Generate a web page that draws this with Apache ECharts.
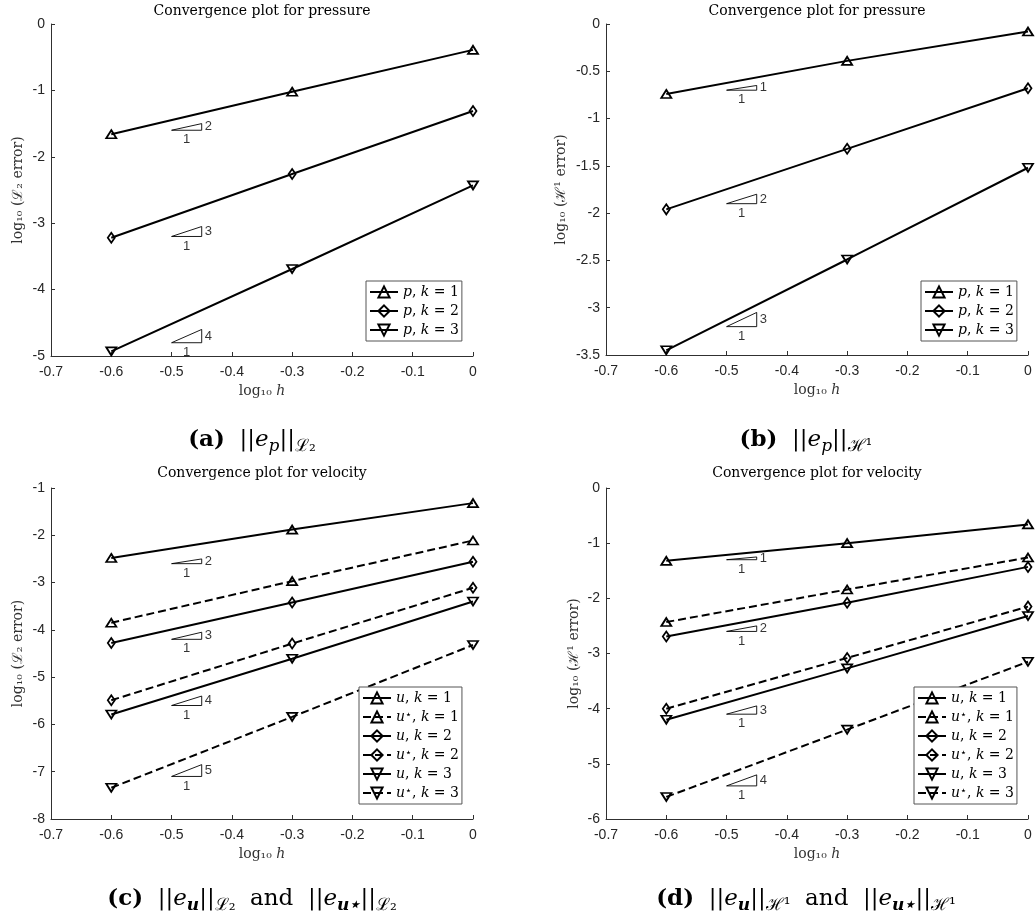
<!DOCTYPE html>
<html>
<head>
<meta charset="utf-8">
<script src="https://cdn.jsdelivr.net/npm/echarts@6/dist/echarts.min.js"></script>
<style>
  body { margin: 0; background: #fff; }
  #chart { width: 1035px; height: 922px; }
</style>
</head>
<body>
<div id="chart"></div>
<script>
// log10 h values
var hLog = [-0.6, -0.3, 0];

// pressure, L2 error
var pL2_k1 = [-1.66, -1.02, -0.39];
var pL2_k2 = [-3.22, -2.26, -1.31];
var pL2_k3 = [-4.93, -3.69, -2.43];
// pressure, H1 error
var pH1_k1 = [-0.74, -0.39, -0.08];
var pH1_k2 = [-1.96, -1.32, -0.68];
var pH1_k3 = [-3.45, -2.49, -1.52];
// velocity, L2 error (u and u*)
var uL2_k1 = [-2.48, -1.88, -1.32];
var usL2_k1 = [-3.85, -2.97, -2.11];
var uL2_k2 = [-4.28, -3.42, -2.56];
var usL2_k2 = [-5.49, -4.29, -3.11];
var uL2_k3 = [-5.79, -4.61, -3.40];
var usL2_k3 = [-7.34, -5.84, -4.32];
// velocity, H1 error (u and u*)
var uH1_k1 = [-1.32, -1.00, -0.66];
var usH1_k1 = [-2.43, -1.84, -1.26];
var uH1_k2 = [-2.69, -2.08, -1.43];
var usH1_k2 = [-4.00, -3.08, -2.15];
var uH1_k3 = [-4.20, -3.27, -2.32];
var usH1_k3 = [-5.60, -4.38, -3.15];

// slope triangles: rate and bottom y of each one
var slopeA = [2, 3, 4];      var slopeBaseA = [-1.6, -3.2, -4.8];
var slopeB = [1, 2, 3];      var slopeBaseB = [-0.7, -1.9, -3.2];
var slopeC = [2, 3, 4, 5];   var slopeBaseC = [-2.6, -4.2, -5.6, -7.1];
var slopeD = [1, 2, 3, 4];   var slopeBaseD = [-1.3, -2.6, -4.1, -5.4];
var slopeX0 = -0.5, slopeRun = 0.05;

var axisColor = '#303030';
var serif = "'DejaVu Serif', 'Liberation Serif', serif";
var sans = "'Liberation Sans', Arial, sans-serif";

var legendLabels = {
  a1: '{i|p}, {i|k} = 1', a2: '{i|p}, {i|k} = 2', a3: '{i|p}, {i|k} = 3',
  b1: '{i|p}, {i|k} = 1', b2: '{i|p}, {i|k} = 2', b3: '{i|p}, {i|k} = 3',
  c1: '{i|u}, {i|k} = 1', c1s: '{i|u}{s|⋆}, {i|k} = 1', c2: '{i|u}, {i|k} = 2',
  c2s: '{i|u}{s|⋆}, {i|k} = 2', c3: '{i|u}, {i|k} = 3', c3s: '{i|u}{s|⋆}, {i|k} = 3',
  d1: '{i|u}, {i|k} = 1', d1s: '{i|u}{s|⋆}, {i|k} = 1', d2: '{i|u}, {i|k} = 2',
  d2s: '{i|u}{s|⋆}, {i|k} = 2', d3: '{i|u}, {i|k} = 3', d3s: '{i|u}{s|⋆}, {i|k} = 3'
};

function mkLine(name, vals, idx, shape, dashed) {
  var sym = 'triangle', size = [10, 8], rot = 0;
  if (shape === 'diamond') { sym = 'diamond'; size = [7, 10]; }
  if (shape === 'down') { rot = 180; }
  return {
    name: name, type: 'line', xAxisIndex: idx, yAxisIndex: idx,
    data: hLog.map(function (x, i) { return [x, vals[i]]; }),
    symbol: sym, symbolSize: size, symbolRotate: rot, showAllSymbol: true,
    lineStyle: { color: '#000', width: 2, type: dashed ? [8, 4] : 'solid' },
    itemStyle: { color: 'rgba(255,255,255,0)', borderColor: '#000', borderWidth: 1.8 },
    z: 3
  };
}

function mkSlopes(rates, bases, idx) {
  var out = [];
  var labels = [];
  rates.forEach(function (r, i) {
    var x1 = slopeX0 + slopeRun, y0 = bases[i], y1 = bases[i] + r * slopeRun;
    out.push({
      type: 'line', xAxisIndex: idx, yAxisIndex: idx, silent: true, symbol: 'none',
      data: [[slopeX0, y0], [x1, y0], [x1, y1], [slopeX0, y0]],
      lineStyle: { color: '#000', width: 0.9 }, z: 2
    });
    labels.push({ value: [x1, (y0 + y1) / 2], label: { position: 'right', distance: 3, formatter: String(r) } });
    labels.push({ value: [slopeX0 + slopeRun / 2, y0], label: { position: 'bottom', distance: 3, formatter: '1' } });
  });
  out.push({
    type: 'scatter', xAxisIndex: idx, yAxisIndex: idx, silent: true, symbolSize: 0,
    data: labels,
    label: { show: true, color: '#000', fontSize: 13, fontFamily: sans }
  });
  return out;
}

var grids = [
  { left: 51, top: 24, width: 422, height: 332 },
  { left: 606, top: 24, width: 422, height: 331 },
  { left: 51, top: 488, width: 422, height: 331 },
  { left: 606, top: 488, width: 422, height: 331 }
];
var yRanges = [[-5, 0, 1], [-3.5, 0, 0.5], [-8, -1, 1], [-6, 0, 1]];
var yNames = ['log₁₀ (ℒ₂ error)', 'log₁₀ (ℋ¹ error)', 'log₁₀ (ℒ₂ error)', 'log₁₀ (ℋ¹ error)'];
var yGaps = [26, 38, 26, 25];

var xAxes = grids.map(function (g, i) {
  return {
    type: 'value', gridIndex: i, min: -0.7, max: 0, interval: 0.1,
    name: '{n|log₁₀ }{i|h}', nameLocation: 'middle', nameGap: 28,
    nameTextStyle: { fontFamily: serif, fontSize: 14, color: '#333',
      rich: { n: { fontFamily: serif, fontSize: 14, color: '#333' },
              i: { fontFamily: serif, fontSize: 14, fontStyle: 'italic', color: '#333' } } },
    axisLine: { onZero: false, lineStyle: { color: axisColor, width: 1 } },
    axisTick: { inside: true, length: 4, lineStyle: { color: axisColor } },
    axisLabel: { color: '#262626', fontSize: 14, fontFamily: sans, margin: 9,
      formatter: function (v) { return String(Math.round(v * 10) / 10); } },
    splitLine: { show: false }
  };
});
var yAxes = grids.map(function (g, i) {
  return {
    type: 'value', gridIndex: i, min: yRanges[i][0], max: yRanges[i][1], interval: yRanges[i][2],
    name: yNames[i], nameLocation: 'middle', nameGap: yGaps[i], nameRotate: 90,
    nameTextStyle: { fontFamily: serif, fontSize: 14, color: '#333' },
    axisLine: { show: true, onZero: false, lineStyle: { color: axisColor, width: 1 } },
    axisTick: { show: true, inside: true, length: 4, lineStyle: { color: axisColor } },
    axisLabel: { color: '#262626', fontSize: 14, fontFamily: sans, margin: 6,
      formatter: function (v) { return String(Math.round(v * 10) / 10); } },
    splitLine: { show: false }
  };
});

var series = [
  mkLine('a1', pL2_k1, 0, 'up'), mkLine('a2', pL2_k2, 0, 'diamond'), mkLine('a3', pL2_k3, 0, 'down'),
  mkLine('b1', pH1_k1, 1, 'up'), mkLine('b2', pH1_k2, 1, 'diamond'), mkLine('b3', pH1_k3, 1, 'down'),
  mkLine('c1', uL2_k1, 2, 'up'), mkLine('c1s', usL2_k1, 2, 'up', true),
  mkLine('c2', uL2_k2, 2, 'diamond'), mkLine('c2s', usL2_k2, 2, 'diamond', true),
  mkLine('c3', uL2_k3, 2, 'down'), mkLine('c3s', usL2_k3, 2, 'down', true),
  mkLine('d1', uH1_k1, 3, 'up'), mkLine('d1s', usH1_k1, 3, 'up', true),
  mkLine('d2', uH1_k2, 3, 'diamond'), mkLine('d2s', usH1_k2, 3, 'diamond', true),
  mkLine('d3', uH1_k3, 3, 'down'), mkLine('d3s', usH1_k3, 3, 'down', true)
].concat(mkSlopes(slopeA, slopeBaseA, 0), mkSlopes(slopeB, slopeBaseB, 1),
         mkSlopes(slopeC, slopeBaseC, 2), mkSlopes(slopeD, slopeBaseD, 3));

function mkLegend(names, left, top) {
  return {
    data: names, orient: 'vertical', left: left, top: top,
    padding: [4, 3, 4, 3], itemGap: 5, itemWidth: 28, itemHeight: 14,
    backgroundColor: '#fff', borderColor: '#555', borderWidth: 1, borderRadius: 0,
    selectedMode: false,
    formatter: function (n) { return legendLabels[n]; },
    textStyle: {
      fontFamily: serif, fontSize: 14, color: '#000',
      rich: {
        i: { fontFamily: serif, fontStyle: 'italic', fontSize: 14 },
        s: { fontFamily: serif, fontSize: 11, verticalAlign: 'top', lineHeight: 14 }
      }
    }
  };
}

var titles = [
  { text: 'Convergence plot for pressure', left: 262, top: 4 },
  { text: 'Convergence plot for pressure', left: 817, top: 4 },
  { text: 'Convergence plot for velocity', left: 262, top: 466 },
  { text: 'Convergence plot for velocity', left: 817, top: 466 }
].map(function (t) {
  t.textAlign = 'center'; t.padding = 0;
  t.textStyle = { fontFamily: serif, fontSize: 14, fontWeight: 'normal', color: '#000' };
  return t;
});

var capRich = {
  b: { fontFamily: serif, fontWeight: 'bold', fontSize: 23, lineHeight: 30, verticalAlign: 'middle' },
  n: { fontFamily: serif, fontSize: 23, lineHeight: 30, verticalAlign: 'middle' },
  i: { fontFamily: serif, fontStyle: 'italic', fontSize: 23, lineHeight: 30, verticalAlign: 'middle' },
  sub: { fontFamily: serif, fontSize: 17, lineHeight: 18, verticalAlign: 'bottom' },
  subi: { fontFamily: serif, fontStyle: 'italic', fontSize: 17, lineHeight: 18, verticalAlign: 'bottom' },
  subb: { fontFamily: serif, fontStyle: 'italic', fontWeight: 'bold', fontSize: 17, lineHeight: 18, verticalAlign: 'bottom' }
};
function caption(text, x, y) {
  return {
    type: 'text', x: x, y: y,
    style: { text: text, rich: capRich, align: 'center', verticalAlign: 'middle', fill: '#000' }
  };
}

var option = {
  animation: false,
  backgroundColor: '#fff',
  title: titles,
  grid: grids,
  xAxis: xAxes,
  yAxis: yAxes,
  legend: [
    mkLegend(['a1', 'a2', 'a3'], 366, 281),
    mkLegend(['b1', 'b2', 'b3'], 921, 281),
    mkLegend(['c1', 'c1s', 'c2', 'c2s', 'c3', 'c3s'], 359, 687),
    mkLegend(['d1', 'd1s', 'd2', 'd2s', 'd3', 'd3s'], 914, 687)
  ],
  series: series,
  graphic: [
    caption('{b|(a)}{n|  ||}{i|e}{subi|p}{n|||}{sub|ℒ₂}', 252, 440),
    caption('{b|(b)}{n|  ||}{i|e}{subi|p}{n|||}{sub|ℋ¹}', 806, 440),
    caption('{b|(c)}{n|  ||}{i|e}{subb|u}{n|||}{sub|ℒ₂}{n|  and  ||}{i|e}{subb|u⋆}{n|||}{sub|ℒ₂}', 252, 899),
    caption('{b|(d)}{n|  ||}{i|e}{subb|u}{n|||}{sub|ℋ¹}{n|  and  ||}{i|e}{subb|u⋆}{n|||}{sub|ℋ¹}', 806, 899)
  ]
};

var myChart = echarts.init(document.getElementById('chart'));
myChart.setOption(option);
</script>
</body>
</html>
